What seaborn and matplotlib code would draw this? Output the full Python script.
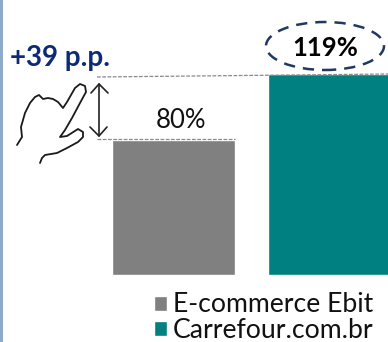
import matplotlib
matplotlib.use("Agg")
import matplotlib.pyplot as plt
import pandas as pd
import seaborn as sns
from matplotlib.patches import Ellipse, Rectangle

categories = ["E-commerce Ebit", "Carrefour.com.br"]
values = [80, 119]
value_labels = ["80%", "119%"]
palette = ["#808080", "#008080"]
gap_label = "+39 p.p."

W, H = 388, 342
df = pd.DataFrame({"source": categories, "value": values})

sns.set_theme(style="white")
plt.rcParams["font.family"] = ["Lato", "DejaVu Sans"]

fig = plt.figure(figsize=(W / 100, H / 100), dpi=100)
ax = fig.add_axes([0, 0, 1, 1])
sns.barplot(data=df, x="source", y="value", hue="source", palette=palette,
            hue_order=categories, order=categories, dodge=False, width=0.788,
            saturation=1, legend=True, ax=ax)
ax.set_xlim(-1.115, 1.372)
ax.set_ylim(-39.76, 163.2)
ax.set_axis_off()


def px(x, y):
    """Pixel position, measured from the top left, to figure fraction."""
    return x / W, 1 - y / H


def pxs(points):
    return [px(*p) for p in points]


def stroke(points, **kw):
    xs, ys = zip(*pxs(points))
    ax.plot(xs, ys, transform=fig.transFigure, clip_on=False, **kw)


# Frame rule on the left edge
fig.add_artist(Rectangle((0, 0), 2.5 / W, 1, transform=fig.transFigure,
                         color="#8FABC9", lw=0))

# Value labels above each bar
ax.text(*px(181, 120), value_labels[0], transform=fig.transFigure, ha="center",
        va="center", fontsize=18.5, color="#111111")
ax.text(*px(325, 48), value_labels[1], transform=fig.transFigure, ha="center",
        va="center", fontsize=18.5, fontweight="bold", color="black")

# Dashed ellipse around the leading value
fig.add_artist(Ellipse(px(325, 46), 118 / W, 48 / H, transform=fig.transFigure,
                       fill=False, ec="#1F3864", lw=1.8, ls=(0, (4.5, 3.2))))

# Dashed guides marking the gap between the bars
stroke([(97, 77), (388, 74)], color="#8A8A8A", lw=0.9, ls=(0, (3, 1.2)))
stroke([(97, 139), (235, 139)], color="#8A8A8A", lw=0.9, ls=(0, (3, 1.2)))

# Double-headed arrow
arrow_style = dict(color="#222222", lw=1.2, solid_capstyle="round")
stroke([(99, 84), (99, 136)], **arrow_style)
stroke([(91, 93), (99, 84), (108, 93)], **arrow_style)
stroke([(90, 127), (99, 136), (107, 127)], **arrow_style)

# Pointing hand outline
stroke([(17, 145), (22, 137), (21, 127), (25, 113), (30, 103), (35, 97),
        (39, 95), (43, 99), (48, 98), (53, 99), (58, 102), (63, 108),
        (67, 102), (75, 88), (80, 84), (85, 86), (86, 92), (80, 103),
        (72, 118), (65, 130), (60, 137), (67, 136), (78, 129), (83, 132),
        (83, 137), (78, 142), (67, 148), (57, 153), (45, 155), (42, 158),
        (40, 163)], color="#1A1A1A", lw=1.3, solid_joinstyle="round")

fig.text(*px(60, 58), gap_label, ha="center", va="center", fontsize=20,
         fontweight="bold", color="#0B2A78")

leg = ax.legend(loc="upper left", bbox_to_anchor=px(154, 292.5),
                bbox_transform=fig.transFigure, frameon=False, fontsize=19.2,
                handlelength=0.49, handleheight=0.49, handletextpad=0.23,
                labelspacing=0.03, borderpad=0, borderaxespad=0,
                labelcolor="#111111")

fig.savefig("out.png", dpi=100)
